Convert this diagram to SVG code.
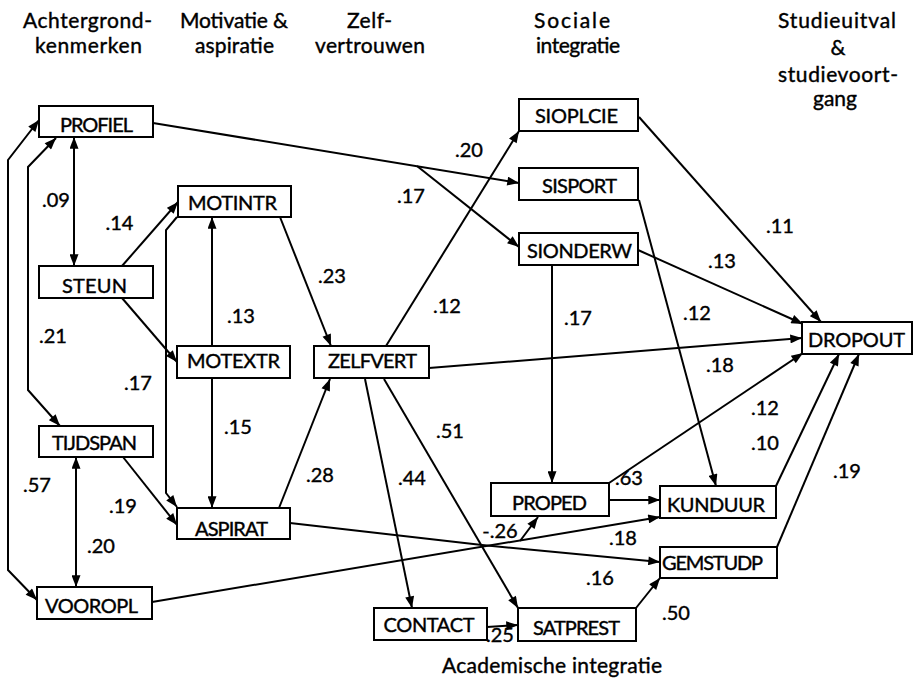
<svg xmlns="http://www.w3.org/2000/svg" width="914" height="684" viewBox="0 0 914 684">
  <style>
    .bg { fill: #ffffff; }
    .box { fill: #ffffff; stroke: #000000; stroke-width: 2; }
    .lbl, .hdr, .num { font-family: Lato, "Liberation Sans", sans-serif; fill: #000000; stroke: #000000; stroke-width: 0.4; text-anchor: middle; }
    .lbl { font-size: 20px; }
    .hdr { font-size: 21px; }
    .num { font-size: 20px; }
    .edge { fill: none; stroke: #000000; stroke-width: 2; marker-end: url(#arr); }
    .both { marker-start: url(#arr); }
  </style>
  <defs>
    <marker id="arr" viewBox="0 0 13 10" refX="13" refY="5" markerWidth="13" markerHeight="9" markerUnits="userSpaceOnUse" orient="auto-start-reverse">
      <path d="M0,0 L13,5 L0,10 z" fill="#000000"/>
    </marker>
  </defs>

  <rect class="bg" x="0" y="0" width="914" height="684"/>

  <!-- column headings -->
  <g id="headings">
    <text class="hdr" x="87.5" y="28" textLength="129">Achtergrond-</text>
    <text class="hdr" x="88.5" y="53" textLength="107">kenmerken</text>
    <text class="hdr" x="234" y="28" textLength="108">Motivatie &amp;</text>
    <text class="hdr" x="234.5" y="53" textLength="79">aspiratie</text>
    <text class="hdr" x="369.5" y="28" textLength="45">Zelf-</text>
    <text class="hdr" x="370" y="53" textLength="110">vertrouwen</text>
    <text class="hdr" x="572" y="28" textLength="76">Sociale</text>
    <text class="hdr" x="578" y="53" textLength="84">integratie</text>
    <text class="hdr" x="837" y="28" textLength="118">Studieuitval</text>
    <text class="hdr" x="838" y="55">&amp;</text>
    <text class="hdr" x="838" y="82" textLength="120">studievoort-</text>
    <text class="hdr" x="835" y="106">gang</text>
    <text class="hdr" x="552" y="673" textLength="220">Academische integratie</text>
  </g>

  <!-- paths between the variables -->
  <g id="connectors">
    <!-- background correlations -->
    <path class="edge both" d="M74,137 L74,266"/>
    <path class="edge both" d="M56,138 L28,167 L28,390 L60,426"/>
    <path class="edge both" d="M39,120 L8,160 L8,570 L37,600"/>
    <path class="edge both" d="M76,457 L76,587"/>
    <!-- into motivation -->
    <path class="edge" d="M122,266 L178,202"/>
    <path class="edge" d="M122,298 L177,362"/>
    <path class="edge" d="M123,457 L177,525"/>
    <path class="edge" d="M212,346 L212,217"/>
    <path class="edge" d="M212,378 L212,508"/>
    <path class="edge" d="M177,217 L166,230 L166,493 L177,507"/>
    <!-- self confidence -->
    <path class="edge" d="M280,217 L331,346"/>
    <path class="edge" d="M279,508 L330,379"/>
    <!-- social integration -->
    <path class="edge" d="M153,123 L519,183"/>
    <path class="edge" d="M417,166 L519,247"/>
    <path class="edge" d="M386,346 L519,131"/>
    <!-- out of ZELFVERT -->
    <path class="edge" d="M429,368 L802,338"/>
    <path class="edge" d="M365,379 L412,608"/>
    <path class="edge" d="M384,379 L518,608"/>
    <!-- academic integration -->
    <path class="edge" d="M552,265 L552,483"/>
    <path class="edge" d="M487,627 L518,625"/>
    <path class="edge" d="M290,523 L482,545 L660,562"/>
    <path class="edge" d="M152,602 L660,517"/>
    <path class="edge" d="M520,541 L538,517"/>
    <path class="edge" d="M609,500 L660,500"/>
    <path class="edge" d="M636,608 L660,578"/>
    <path class="edge" d="M639,200 L716,486"/>
    <!-- into DROPOUT -->
    <path class="edge" d="M639,117 L821,322"/>
    <path class="edge" d="M638,250 L803,324"/>
    <path class="edge" d="M609,483 L803,353"/>
    <path class="edge" d="M776,486 L839,354"/>
    <path class="edge" d="M777,547 L859,354"/>
  </g>

  <!-- variables -->
  <g id="PROFIEL"><rect class="box" x="39" y="106" width="114" height="31"/><text class="lbl" x="96.5" y="132" textLength="73">PROFIEL</text></g>
  <g id="MOTINTR"><rect class="box" x="178" y="186" width="113" height="31"/><text class="lbl" x="232.5" y="210" textLength="89">MOTINTR</text></g>
  <g id="STEUN"><rect class="box" x="39" y="266" width="114" height="32"/><text class="lbl" x="94.5" y="293" textLength="65">STEUN</text></g>
  <g id="MOTEXTR"><rect class="box" x="177" y="346" width="113" height="32"/><text class="lbl" x="233.5" y="368" textLength="93">MOTEXTR</text></g>
  <g id="ZELFVERT"><rect class="box" x="314" y="346" width="115" height="32"/><text class="lbl" x="372.5" y="368" textLength="89">ZELFVERT</text></g>
  <g id="TIJDSPAN"><rect class="box" x="39" y="426" width="114" height="31"/><text class="lbl" x="94.5" y="450" textLength="85">TIJDSPAN</text></g>
  <g id="ASPIRAT"><rect class="box" x="177" y="508" width="113" height="31"/><text class="lbl" x="231.5" y="536" textLength="73">ASPIRAT</text></g>
  <g id="VOOROPL"><rect class="box" x="37" y="587" width="115" height="32"/><text class="lbl" x="91.5" y="613" textLength="93">VOOROPL</text></g>
  <g id="CONTACT"><rect class="box" x="374" y="608" width="113" height="32"/><text class="lbl" x="429" y="632" textLength="91">CONTACT</text></g>
  <g id="SATPREST"><rect class="box" x="518" y="608" width="118" height="33"/><text class="lbl" x="576.5" y="635" textLength="87">SATPREST</text></g>
  <g id="PROPED"><rect class="box" x="491" y="483" width="118" height="33"/><text class="lbl" x="549.5" y="510" textLength="75">PROPED</text></g>
  <g id="KUNDUUR"><rect class="box" x="660" y="486" width="116" height="32"/><text class="lbl" x="716" y="512" textLength="98">KUNDUUR</text></g>
  <g id="GEMSTUDP"><rect class="box" x="660" y="547" width="117" height="31"/><text class="lbl" x="712.5" y="570" textLength="101">GEMSTUDP</text></g>
  <g id="SIOPLCIE"><rect class="box" x="519" y="99" width="119" height="32"/><text class="lbl" x="576.5" y="123" textLength="83">SIOPLCIE</text></g>
  <g id="SISPORT"><rect class="box" x="519" y="168" width="119" height="32"/><text class="lbl" x="579.5" y="193" textLength="75">SISPORT</text></g>
  <g id="SIONDERW"><rect class="box" x="519" y="233" width="119" height="32"/><text class="lbl" x="579.5" y="258" textLength="105">SIONDERW</text></g>
  <g id="DROPOUT"><rect class="box" x="802" y="322" width="110" height="32"/><text class="lbl" x="856.5" y="347" textLength="97">DROPOUT</text></g>

  <!-- path coefficients -->
  <g id="coefficients">
    <text class="num" x="56" y="207">.09</text>
    <text class="num" x="119.5" y="230">.14</text>
    <text class="num" x="411" y="203">.17</text>
    <text class="num" x="469" y="157">.20</text>
    <text class="num" x="780" y="233">.11</text>
    <text class="num" x="332" y="283">.23</text>
    <text class="num" x="447" y="313">.12</text>
    <text class="num" x="241" y="323">.13</text>
    <text class="num" x="53" y="343">.21</text>
    <text class="num" x="138" y="390">.17</text>
    <text class="num" x="238" y="434">.15</text>
    <text class="num" x="450" y="438">.51</text>
    <text class="num" x="722" y="268">.13</text>
    <text class="num" x="578" y="325">.17</text>
    <text class="num" x="697" y="320">.12</text>
    <text class="num" x="720" y="372">.18</text>
    <text class="num" x="765" y="415">.12</text>
    <text class="num" x="765" y="450">.10</text>
    <text class="num" x="847" y="478">.19</text>
    <text class="num" x="37" y="492">.57</text>
    <text class="num" x="123" y="513">.19</text>
    <text class="num" x="101" y="553">.20</text>
    <text class="num" x="320" y="482">.28</text>
    <text class="num" x="412" y="485">.44</text>
    <text class="num" x="629" y="485">.63</text>
    <text class="num" x="500" y="538">-.26</text>
    <text class="num" x="623" y="545">.18</text>
    <text class="num" x="600" y="585">.16</text>
    <text class="num" x="676" y="620">.50</text>
    <text class="num" x="500" y="642">.25</text>
  </g>
</svg>
